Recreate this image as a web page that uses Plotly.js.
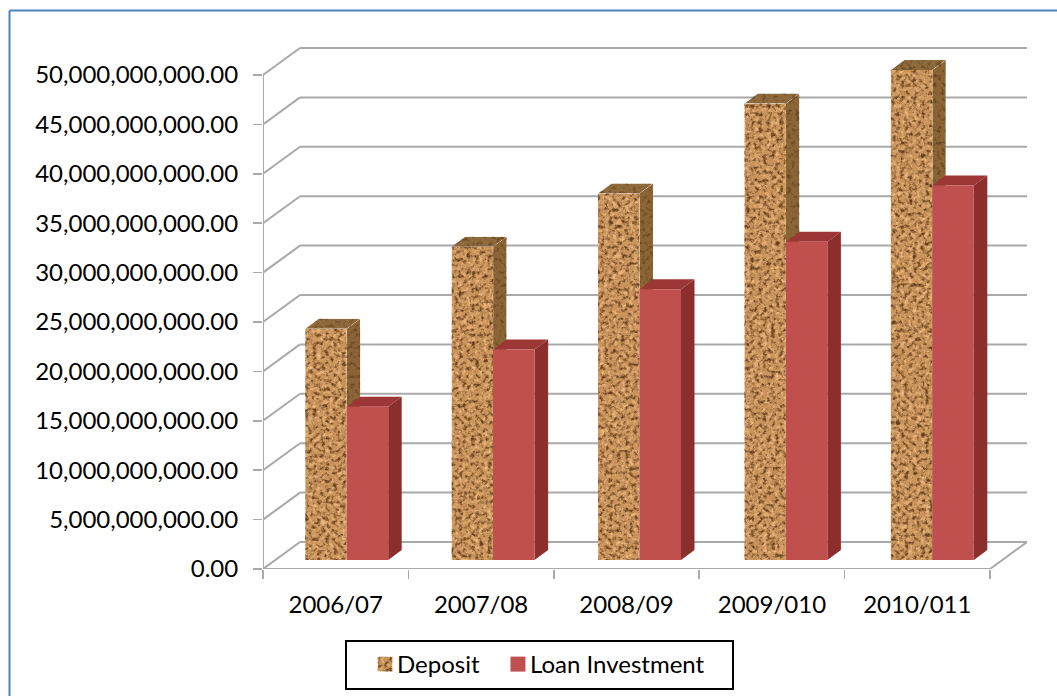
<!DOCTYPE html>
<html>
<head>
<meta charset="utf-8">
<script src="https://cdn.plot.ly/plotly-3.0.1.min.js"></script>
<style>
  html, body { margin: 0; padding: 0; background: #fff; overflow: hidden; }
  #chart { width: 1057px; height: 696px; }
</style>
</head>
<body>
<svg width="0" height="0" style="position:absolute">
  <filter id="cork" x="0" y="0" width="100%" height="100%" color-interpolation-filters="sRGB">
    <feTurbulence type="fractalNoise" baseFrequency="0.24" numOctaves="3" seed="11" result="noise"/>
    <feColorMatrix in="noise" type="matrix" result="dark"
      values="0 0 0 0 0.4  0 0 0 0 0.24  0 0 0 0 0.09  3 0 0 0 -1.4"/>
    <feColorMatrix in="noise" type="matrix" result="light"
      values="0 0 0 0 0.95  0 0 0 0 0.74  0 0 0 0 0.52  0 2.6 0 0 -1.15"/>
    <feMerge result="spots">
      <feMergeNode in="SourceGraphic"/>
      <feMergeNode in="light"/>
      <feMergeNode in="dark"/>
    </feMerge>
    <feGaussianBlur in="spots" stdDeviation="0.5" result="soft"/>
    <feComposite in="soft" in2="SourceGraphic" operator="in"/>
  </filter>
  <filter id="corkShade" x="0" y="0" width="100%" height="100%" color-interpolation-filters="sRGB">
    <feTurbulence type="fractalNoise" baseFrequency="0.24" numOctaves="3" seed="5" result="noise"/>
    <feColorMatrix in="noise" type="matrix" result="dark"
      values="0 0 0 0 0.36  0 0 0 0 0.24  0 0 0 0 0.1  2.4 0 0 0 -1.2"/>
    <feMerge result="spots">
      <feMergeNode in="SourceGraphic"/>
      <feMergeNode in="dark"/>
    </feMerge>
    <feComposite in="spots" in2="SourceGraphic" operator="in"/>
  </filter>
</svg>
<div id="chart"></div>
<script>
// Deposit and loan investment totals per fiscal year
const years = ['2006/07', '2007/08', '2008/09', '2009/010', '2010/011'];
const deposit = [23.4e9, 31.7e9, 37.1e9, 46.2e9, 49.6e9];
const loanInvestment = [15.5e9, 21.3e9, 27.4e9, 32.2e9, 37.9e9];
const valueTicks = [0, 5e9, 10e9, 15e9, 20e9, 25e9, 30e9, 35e9, 40e9, 45e9, 50e9];

// Plot frame and the oblique projection used for the 3D look
const W = 1057, H = 696;
const M = { l: 263, r: 30, t: 46, b: 127 };
const pxPerCat = 145.4, pxPerValue = 494 / 50e9;
const px = d => d / pxPerCat;            // pixels to category units
const pv = d => d / pxPerValue;          // pixels to value units
const wallDx = px(37), wallDy = pv(27);
const barDx = px(13.5), barDy = pv(10);
const floorLift = pv(9);
const barW = px(41.5);
const xMin = -0.5, xMax = 4.5;
const paperX = p => (p - M.l) / (W - M.l - M.r);
const paperY = p => 1 - (p - M.t) / (H - M.t - M.b);
const barLeft = i => i + px(11) + i * px(1);

const GRID = '#a9a9a9';
const seg = (x0, y0, x1, y1) => ({
  type: 'line', layer: 'below', xref: 'x', yref: 'y', x0, y0, x1, y1,
  line: { color: GRID, width: 2 }
});
const poly = (pts, fill) => ({
  type: 'path', layer: 'below', xref: 'x', yref: 'y', fillcolor: fill,
  line: { width: 0 },
  path: 'M' + pts.map(p => p[0] + ',' + p[1]).join('L') + 'Z'
});
const frameLine = (x0, y0, x1, y1, color) => ({
  type: 'line', xref: 'paper', yref: 'paper', layer: 'above',
  x0: paperX(x0), y0: paperY(y0), x1: paperX(x1), y1: paperY(y1),
  line: { color, width: 2 }
});

const shapes = [];
// Back wall and left wall gridlines
valueTicks.forEach(v => {
  shapes.push(seg(xMin, v, xMin + wallDx, v + wallDy));
  shapes.push(seg(xMin + wallDx, v + wallDy, xMax + wallDx, v + wallDy));
});
// Floor edges and the front axes
shapes.push(seg(xMin, 0, xMax, 0));
shapes.push(seg(xMax, 0, xMax + wallDx, wallDy));
shapes.push(seg(xMin, 0, xMin, valueTicks[valueTicks.length - 1]));

// Side and top faces; front faces are the bar traces themselves
const depositFaceStart = shapes.length;
const faces = (left, top, side, lid) => {
  const right = left + barW, base = floorLift;
  shapes.push(poly([[right, base], [right + barDx, base + barDy], [right + barDx, top + barDy], [right, top]], side));
  shapes.push(poly([[left, top], [right, top], [right + barDx, top + barDy], [left + barDx, top + barDy]], lid));
};
years.forEach((_, i) => faces(barLeft(i) - barW, deposit[i] + floorLift, '#8c6536', '#8f6a3c'));
const depositFaceEnd = shapes.length;
years.forEach((_, i) => faces(barLeft(i), loanInvestment[i] + floorLift, '#8b2e2c', '#9c3735'));

// Chart area edges and the box around the legend
shapes.push(frameLine(9.5, 10.5, 1057, 10.5, '#4f81bd'));
shapes.push(frameLine(9.5, 10.5, 9.5, 696, '#4f81bd'));
shapes.push({ type: 'rect', xref: 'paper', yref: 'paper', layer: 'above',
  x0: paperX(346), x1: paperX(733), y0: paperY(689), y1: paperY(641),
  line: { color: '#000', width: 2 } });

const xs = years.map((_, i) => i);
const traces = [
  { type: 'bar', name: 'Deposit', x: xs, y: deposit, base: floorLift, width: barW,
    offset: xs.map(i => barLeft(i) - i - barW), marker: { color: '#c8945c', line: { width: 0 } } },
  { type: 'bar', name: 'Loan Investment', x: xs, y: loanInvestment, base: floorLift, width: barW,
    offset: xs.map(i => barLeft(i) - i), marker: { color: '#c0504d', line: { width: 0 } } }
];

const font = { family: 'Lato, "Open Sans", sans-serif', size: 24, color: '#000' };
const layout = {
  width: W, height: H, margin: { l: M.l, r: M.r, t: M.t, b: M.b, pad: 0 },
  paper_bgcolor: '#fff', plot_bgcolor: 'rgba(0,0,0,0)', font,
  barmode: 'overlay', showlegend: true, shapes,
  legend: { orientation: 'h', xref: 'container', yref: 'container',
    x: 357 / W, y: 1 - 642 / H, xanchor: 'left', yanchor: 'top',
    borderwidth: 0, bgcolor: 'rgba(0,0,0,0)', font, traceorder: 'normal' },
  xaxis: {
    type: 'linear', range: [xMin, xMax + wallDx], fixedrange: true, zeroline: false,
    showgrid: false, showline: false, tickmode: 'array', tickvals: xs, ticktext: years,
    ticks: '', ticklabelstandoff: 19,
    minor: { tickmode: 'array', tickvals: [-0.5, 0.5, 1.5, 2.5, 3.5, 4.5], ticks: 'outside',
      ticklen: 9, tickwidth: 1.5, tickcolor: GRID, showgrid: false }
  },
  yaxis: {
    range: [0, pv(H - M.b - M.t)], fixedrange: true, zeroline: false, showgrid: false, showline: false,
    tickmode: 'array', tickvals: valueTicks, tickformat: ',.2f',
    ticks: 'outside', ticklen: 9, tickwidth: 1.5, tickcolor: GRID, ticklabelstandoff: 10
  }
};

Plotly.newPlot('chart', traces, layout, { displayModeBar: false, staticPlot: true }).then(gd => {
  // Cork grain for every face of the Deposit series
  gd.querySelectorAll('.barlayer .trace')[0].querySelectorAll('path')
    .forEach(el => { el.style.filter = 'url(#cork)'; });
  const below = gd.querySelectorAll('.layer-subplot .shapelayer path');
  for (let i = depositFaceStart; i < depositFaceEnd; i++) {
    if (below[i]) below[i].style.filter = 'url(#corkShade)';
  }
  // Larger legend swatches sitting closer to their labels
  gd.querySelectorAll('.legend .traces .legendpoints path').forEach((el, k) => {
    el.setAttribute('d', 'M7.5,7.5H-7.5V-7.5H7.5Z');
    el.setAttribute('transform', 'translate(28,0)');
    if (k === 0) el.style.filter = 'url(#cork)';
  });
  // A little more room before the second legend entry
  const second = gd.querySelectorAll('.legend .traces')[1];
  const m = /translate\(([-\d.]+),\s*([-\d.]+)\)/.exec(second.getAttribute('transform'));
  if (m) second.setAttribute('transform', `translate(${+m[1] + 5},${m[2]})`);
  const clip = gd.querySelector('.legend .scrollbox');
  if (clip) clip.removeAttribute('clip-path');
});
</script>
</body>
</html>
